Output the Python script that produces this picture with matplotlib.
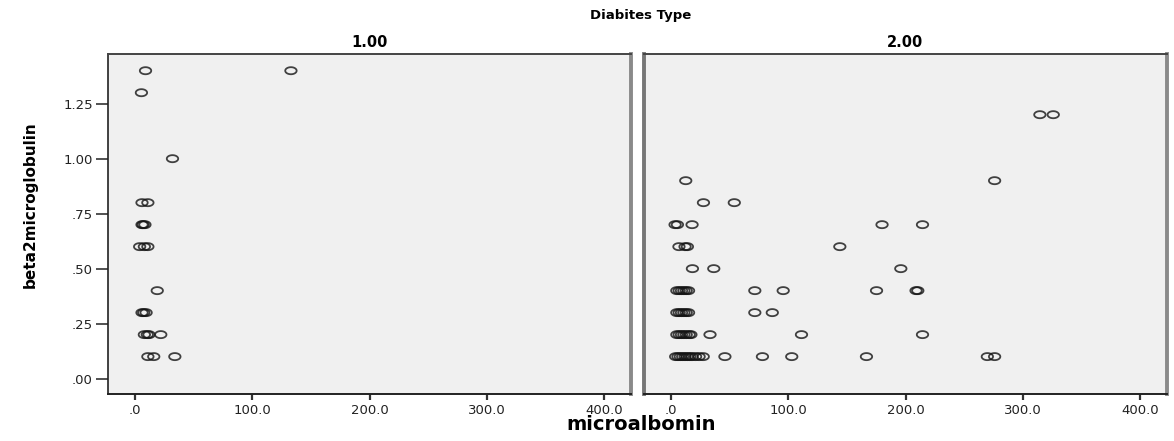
import matplotlib
matplotlib.use("Agg")
import matplotlib.pyplot as plt
import numpy as np
from matplotlib.path import Path
from matplotlib import font_manager

# ---- data ----
panel_titles = ["1.00", "2.00"]
x_ticks = [0, 100, 200, 300, 400]
x_tick_labels = [".0", "100.0", "200.0", "300.0", "400.0"]
y_ticks = [0.0, 0.25, 0.5, 0.75, 1.0, 1.25]
y_tick_labels = [".00", ".25", ".50", ".75", "1.00", "1.25"]

type1_micro = [9, 133, 5.5, 32, 6, 11, 6, 7, 8.5, 4, 8, 11, 19, 6, 7.5, 9.5, 8, 10.5, 12, 22, 11, 16, 34]
type1_beta = [1.40, 1.40, 1.30, 1.00, 0.80, 0.80, 0.70, 0.70, 0.70, 0.60, 0.60, 0.60, 0.40,
              0.30, 0.30, 0.30, 0.20, 0.20, 0.20, 0.20, 0.10, 0.10, 0.10]

type2_micro = [314.6, 326, 12.6, 276, 27.7, 54, 3.5, 5.5, 18, 180, 214.5, 6.8, 12, 14, 144,
               18.3, 36.5, 196,
               5, 7, 9, 11, 13, 15, 71.5, 95.7, 175.3, 209, 210.5,
               5, 7, 9, 11, 13, 15, 71.5, 86.4,
               5, 7, 9, 11, 13, 15.5, 17, 33.3, 111.3, 214.5,
               4, 6, 8, 10, 12, 14, 16, 18, 21, 24, 27.5, 46, 78, 103, 166.7, 269.8, 276]
type2_beta = [1.20, 1.20, 0.90, 0.90, 0.80, 0.80, 0.70, 0.70, 0.70, 0.70, 0.70, 0.60, 0.60, 0.60, 0.60,
              0.50, 0.50, 0.50,
              0.40, 0.40, 0.40, 0.40, 0.40, 0.40, 0.40, 0.40, 0.40, 0.40, 0.40,
              0.30, 0.30, 0.30, 0.30, 0.30, 0.30, 0.30, 0.30,
              0.20, 0.20, 0.20, 0.20, 0.20, 0.20, 0.20, 0.20, 0.20, 0.20,
              0.10, 0.10, 0.10, 0.10, 0.10, 0.10, 0.10, 0.10, 0.10, 0.10, 0.10, 0.10, 0.10, 0.10,
              0.10, 0.10, 0.10]

# ---- style ----
names = {f.name for f in font_manager.fontManager.ttflist}
narrow = "Liberation Sans Narrow" if "Liberation Sans Narrow" in names else "DejaVu Sans"

theta = np.linspace(0, 2 * np.pi, 60)
ellipse = Path(np.column_stack([np.cos(theta), 0.62 * np.sin(theta)]), closed=True)

W, H = 1174, 441
fig = plt.figure(figsize=(W / 100, H / 100), dpi=100)
fig.patch.set_facecolor("white")

panels = [(108, type1_micro, type1_beta), (644, type2_micro, type2_beta)]
for i, (left_px, xs, ys) in enumerate(panels):
    ax = fig.add_axes([left_px / W, 1 - 394 / H, 523 / W, (394 - 54) / H])
    ax.set_facecolor("#f0f0f0")
    ax.scatter(xs, ys, marker=ellipse, s=8.2 ** 2, facecolors="none",
               edgecolors=(0.08, 0.08, 0.08, 0.8), linewidths=1.3, zorder=3)
    ax.set_xlim(-23, 423)
    ax.set_ylim(-0.07, 1.476)
    ax.set_xticks(x_ticks)
    ax.set_xticklabels(x_tick_labels, fontsize=9.5, color="#222222")
    ax.tick_params(axis="x", direction="out", length=4, width=1.6, pad=3, color="#333333")
    if i == 0:
        ax.set_yticks(y_ticks)
        ax.set_yticklabels(y_tick_labels, fontsize=9.5, color="#222222")
        ax.tick_params(axis="y", direction="out", length=9, width=1.2, pad=2, color="#333333")
        ax.spines["left"].set_color("#222222")
        ax.spines["left"].set_linewidth(1.2)
    else:
        ax.set_yticks([])
        ax.spines["left"].set_color("#777777")
        ax.spines["left"].set_linewidth(2.8)
    ax.spines["right"].set_color("#8a8a8a")
    ax.spines["right"].set_linewidth(2.8)
    ax.spines["top"].set_color("#444444")
    ax.spines["top"].set_linewidth(1.4)
    ax.spines["bottom"].set_color("#222222")
    ax.spines["bottom"].set_linewidth(1.4)
    ax.set_title(panel_titles[i], fontsize=10.5, fontweight="bold", pad=5)

fig.text(641 / W, 1 - 15 / H, "Diabites Type", ha="center", va="center",
         fontsize=9.5, fontweight="bold")
fig.text(641 / W, 1 - 425 / H, "microalbomin", ha="center", va="center",
         fontsize=14, fontweight="bold")
fig.text(30 / W, 1 - 205 / H, "beta2microglobulin", ha="center", va="center",
         rotation=90, fontsize=11, fontweight="bold", family=narrow)

fig.savefig("out.png", dpi=100)
